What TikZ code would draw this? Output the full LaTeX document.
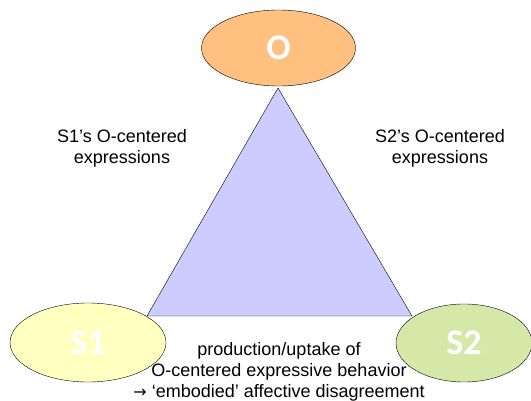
\documentclass[tikz,border=0pt]{standalone}
\usepackage{fontspec}
\setmainfont{Liberation Sans}
\newfontfamily\labelfont{Carlito}
\newfontfamily\symfont{DejaVu Sans}
\usetikzlibrary{shapes.geometric}
\definecolor{ocolor}{RGB}{255,192,128}
\definecolor{sonecolor}{RGB}{255,255,192}
\definecolor{stwocolor}{RGB}{214,232,168}
\definecolor{tricolor}{RGB}{204,204,255}
\tikzset{
  party/.style={ellipse, draw=black, thin, inner sep=0pt,
    font=\labelfont\bfseries\fontsize{36}{40}\selectfont, text=white},
  note/.style={align=center, font=\fontsize{18}{21}\selectfont}
}
\begin{document}
\begin{tikzpicture}[x=1pt,y=-1pt]
\useasboundingbox (0,0) rectangle (531,401);
  \coordinate (t1) at (278,88);
  \coordinate (t2) at (147,316);
  \coordinate (t3) at (412,316);
  \draw[fill=tricolor, thin] (t1) -- (t2) -- (t3) -- cycle;
  \node[party, fill=ocolor, minimum width=154pt, minimum height=76pt] (o) at (278.5,48) {O};
  \node[party, fill=sonecolor, minimum width=156pt, minimum height=79pt] (s1) at (88,342.5) {S1};
  \node[party, fill=stwocolor, minimum width=136pt, minimum height=78pt] (s2) at (464,343) {S2};
  \node[note] (n1) at (122,148) {S1’s O-centered\\expressions};
  \node[note] (n2) at (440,148) {S2’s O-centered\\expressions};
  \node[note] (n3) at (279,372) {production/uptake of\\O-centered expressive behavior\\{\symfont\fontsize{16}{21}\selectfont →} ‘embodied’ affective disagreement};
\end{tikzpicture}
\end{document}
